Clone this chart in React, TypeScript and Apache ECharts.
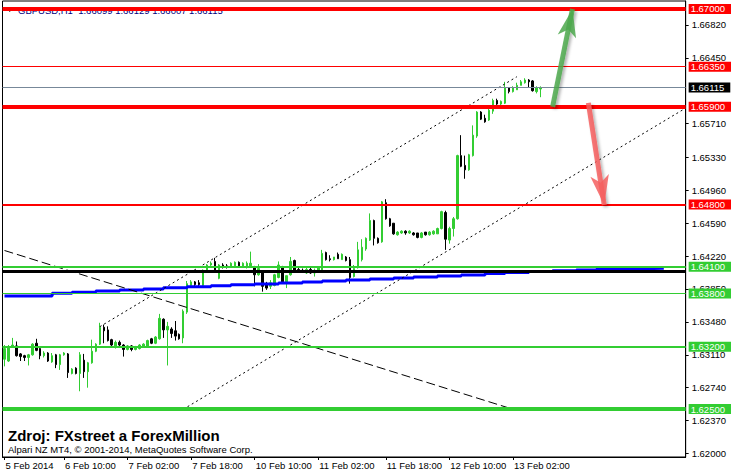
import React, { useEffect, useRef } from "react";
import * as echarts from "echarts";

// ---------- data ----------
const SLOTS = 172;
// [open, high, low, close] for each H1 bar
const ohlc: number[][] = [
  [1.6306, 1.6322, 1.6298, 1.6318], [1.6304, 1.6322, 1.6303, 1.632], [1.632, 1.633, 1.6319, 1.6322],
  [1.6321, 1.6326, 1.6309, 1.631], [1.6312, 1.6313, 1.6304, 1.6309], [1.631, 1.6311, 1.6304, 1.6308],
  [1.6308, 1.6312, 1.6299, 1.6311], [1.6311, 1.6324, 1.631, 1.6323], [1.6324, 1.6329, 1.6315, 1.6316],
  [1.6318, 1.6319, 1.6306, 1.631], [1.631, 1.6315, 1.6308, 1.6313], [1.6313, 1.6314, 1.6303, 1.6304],
  [1.6303, 1.6313, 1.6302, 1.631], [1.6311, 1.6312, 1.6296, 1.63], [1.63, 1.6312, 1.6294, 1.6311],
  [1.6311, 1.6314, 1.631, 1.6313], [1.6312, 1.6313, 1.6285, 1.6291], [1.629, 1.6296, 1.6289, 1.6295],
  [1.6296, 1.6297, 1.6289, 1.629], [1.629, 1.6314, 1.627, 1.6311], [1.6305, 1.6312, 1.6285, 1.6292],
  [1.6292, 1.6303, 1.6274, 1.6302], [1.6302, 1.6328, 1.6301, 1.6315], [1.6315, 1.6324, 1.6314, 1.6323],
  [1.6323, 1.6347, 1.6322, 1.6342], [1.6342, 1.6345, 1.6324, 1.6338], [1.6339, 1.6343, 1.6326, 1.6327],
  [1.6328, 1.6329, 1.632, 1.6322], [1.632, 1.6327, 1.6318, 1.6325], [1.6325, 1.6327, 1.632, 1.6322],
  [1.6322, 1.6323, 1.6309, 1.6317], [1.6317, 1.6322, 1.6316, 1.6321], [1.6321, 1.6322, 1.6315, 1.6317],
  [1.6317, 1.6321, 1.6316, 1.632], [1.6318, 1.6323, 1.6317, 1.6322], [1.632, 1.6324, 1.6319, 1.6323],
  [1.632, 1.6328, 1.6319, 1.6327], [1.6329, 1.633, 1.6323, 1.6324], [1.6324, 1.6332, 1.6323, 1.6331],
  [1.6329, 1.6357, 1.6328, 1.6352], [1.6351, 1.6352, 1.633, 1.6339], [1.6339, 1.6348, 1.6299, 1.6343],
  [1.634, 1.6342, 1.633, 1.6335], [1.6338, 1.6349, 1.6327, 1.6332], [1.6334, 1.6335, 1.6328, 1.6329],
  [1.633, 1.6362, 1.6324, 1.636], [1.6359, 1.6394, 1.6357, 1.6391], [1.6389, 1.6395, 1.6387, 1.6393],
  [1.6393, 1.6394, 1.6388, 1.639], [1.6392, 1.6395, 1.6388, 1.639], [1.6389, 1.6407, 1.6388, 1.6406],
  [1.6405, 1.6413, 1.6405, 1.6412], [1.6412, 1.6416, 1.6411, 1.6414], [1.6416, 1.642, 1.6405, 1.6406],
  [1.6397, 1.6413, 1.6396, 1.6412], [1.6412, 1.6414, 1.6408, 1.641], [1.6411, 1.6413, 1.6408, 1.641],
  [1.641, 1.6415, 1.6409, 1.6414], [1.6411, 1.6416, 1.641, 1.6415], [1.6415, 1.6416, 1.641, 1.6411],
  [1.641, 1.6415, 1.6409, 1.6414], [1.641, 1.6416, 1.6408, 1.6414], [1.6411, 1.6427, 1.6409, 1.6414],
  [1.641, 1.6411, 1.6388, 1.6401], [1.6401, 1.6413, 1.64, 1.6408], [1.6404, 1.6406, 1.6382, 1.6388],
  [1.6391, 1.6393, 1.6384, 1.6386], [1.6388, 1.6395, 1.6385, 1.6392], [1.6389, 1.6402, 1.6388, 1.6401],
  [1.6398, 1.6416, 1.6397, 1.6412], [1.6409, 1.6411, 1.6392, 1.6393], [1.6393, 1.64, 1.6386, 1.64],
  [1.6401, 1.6421, 1.64, 1.6416], [1.6417, 1.6418, 1.6404, 1.6406], [1.6407, 1.641, 1.6404, 1.6406],
  [1.6406, 1.6408, 1.6403, 1.6404], [1.6403, 1.6409, 1.6402, 1.6407], [1.6407, 1.6409, 1.6402, 1.6403],
  [1.6403, 1.6408, 1.6399, 1.6406], [1.6406, 1.641, 1.6404, 1.6409], [1.6406, 1.6429, 1.6405, 1.6425],
  [1.6426, 1.6427, 1.6417, 1.6418], [1.6419, 1.6423, 1.6416, 1.6418], [1.6418, 1.6421, 1.6417, 1.6421],
  [1.6424, 1.6426, 1.6419, 1.6419], [1.6418, 1.6425, 1.6418, 1.6424], [1.6421, 1.6422, 1.6416, 1.6417],
  [1.6418, 1.6421, 1.6391, 1.6398], [1.6399, 1.6412, 1.6398, 1.6408], [1.6409, 1.6438, 1.6408, 1.6429],
  [1.6418, 1.6441, 1.6416, 1.6432], [1.643, 1.6443, 1.6428, 1.6442], [1.644, 1.647, 1.6439, 1.6462],
  [1.6462, 1.6463, 1.6434, 1.6442], [1.6442, 1.6443, 1.6436, 1.6437], [1.6438, 1.6484, 1.6437, 1.6483],
  [1.6482, 1.6486, 1.6463, 1.6464], [1.6464, 1.6465, 1.6455, 1.6456], [1.6459, 1.6459, 1.6446, 1.6447],
  [1.6446, 1.645, 1.6445, 1.6449], [1.6448, 1.6451, 1.6447, 1.645], [1.645, 1.6451, 1.6446, 1.6448],
  [1.6448, 1.6451, 1.6447, 1.645], [1.6448, 1.6449, 1.6445, 1.6446], [1.6448, 1.6448, 1.6442, 1.6443],
  [1.6443, 1.6449, 1.6442, 1.6448], [1.6449, 1.6449, 1.6445, 1.6446], [1.6446, 1.645, 1.6445, 1.6449],
  [1.6447, 1.6451, 1.6446, 1.645], [1.6447, 1.6454, 1.6447, 1.6453], [1.6453, 1.6473, 1.6452, 1.6472],
  [1.6471, 1.6473, 1.6429, 1.6441], [1.644, 1.6455, 1.6436, 1.6453], [1.6453, 1.6466, 1.6444, 1.6464],
  [1.6464, 1.6536, 1.6463, 1.6535], [1.6535, 1.6558, 1.6522, 1.6523], [1.6524, 1.6535, 1.6509, 1.6519],
  [1.6519, 1.6537, 1.6518, 1.6536], [1.6535, 1.6569, 1.6534, 1.6558], [1.6557, 1.6585, 1.6555, 1.6584],
  [1.6584, 1.6585, 1.6575, 1.6576], [1.6577, 1.6581, 1.6572, 1.6573], [1.6575, 1.6588, 1.6574, 1.6586],
  [1.6585, 1.6599, 1.6582, 1.6597], [1.6597, 1.6599, 1.6592, 1.6593], [1.6593, 1.6597, 1.6591, 1.6596],
  [1.6594, 1.6618, 1.6593, 1.6611], [1.6611, 1.6612, 1.6605, 1.6607], [1.6607, 1.6613, 1.6606, 1.6611],
  [1.6609, 1.6617, 1.6609, 1.6614], [1.6614, 1.662, 1.6614, 1.6618], [1.6617, 1.6622, 1.6616, 1.662],
  [1.662, 1.6621, 1.6612, 1.6618], [1.6619, 1.662, 1.6607, 1.6608], [1.6607, 1.6613, 1.6605, 1.6611],
  [1.66099, 1.66129, 1.66007, 1.66115],
];

const timeTickIdx = [0, 15, 31, 47, 63, 79, 96, 112, 128];
const timeTickText = [
  "5 Feb 2014", "6 Feb 10:00", "7 Feb 02:00", "7 Feb 18:00", "10 Feb 10:00",
  "11 Feb 02:00", "11 Feb 18:00", "12 Feb 10:00", "13 Feb 02:00",
];

const priceTicks = [
  1.62, 1.6237, 1.6274, 1.6311, 1.6348, 1.6385, 1.6422, 1.6459, 1.6496,
  1.6533, 1.6571, 1.6645, 1.6682,
];

// horizontal levels
const levelValues = [1.67, 1.6635, 1.66115, 1.659, 1.648, 1.641, 1.64045, 1.638, 1.632, 1.625];
const levelColors = ["#FF0000", "#FF0000", "#778899", "#FF0000", "#FF0000", "#32CD32", "#000000", "#32CD32", "#32CD32", "#32CD32"];
const levelWidths = [4, 1, 1, 4, 2, 2, 3, 1, 2, 4];
// price boxes on the scale
const boxValues = [1.67, 1.6635, 1.66115, 1.659, 1.648, 1.641, 1.638, 1.632, 1.625];
const boxStyles = ["r", "r", "k", "r", "r", "g", "g", "g", "g"];

// stepped blue moving average: bar index, value
const maIdx = [0, 12, 17, 23, 29, 35, 40, 46, 52, 57, 63, 69, 75, 80, 86, 92, 98, 103, 109, 115, 121, 126, 132, 138, 144, 149, 155, 161, 166];
const maVals = [
  1.63772, 1.63802, 1.63813, 1.63828, 1.63839, 1.6385, 1.63865, 1.63876, 1.63887, 1.63899,
  1.63907, 1.63918, 1.63929, 1.6394, 1.63952, 1.63963, 1.63974, 1.63985, 1.63997, 1.64008,
  1.64025, 1.64036, 1.64047, 1.64055, 1.64064, 1.64072, 1.64078, 1.64083, 1.64087,
];

// trend lines: [barIndex, price]
const channelUpper = [[24, 1.63426], [129, 1.66237]];
const channelLower = [[45, 1.62497], [171, 1.65871]];
const downTrend = [[0, 1.64283], [129, 1.62484]];

// arrows: tail, tip
const arrowUp = [[138, 1.659], [143, 1.67]];
const arrowDown = [[147, 1.65943], [151, 1.64795]];

const Y_MIN = 1.619606;
const Y_MAX = 1.670889;
const FONT = '"Liberation Sans", Arial, sans-serif';

export default function App() {
  const ref = useRef<HTMLDivElement>(null);

  useEffect(() => {
    if (!ref.current) return;
    const chart = echarts.init(ref.current, undefined, { renderer: "svg" });
    const cats = Array.from({ length: SLOTS }, (_, i) => String(i));
    const tickSet = new Set(timeTickIdx);
    const showTick = (i: number) => tickSet.has(i);

    const mk = (bg: string) => ({
      backgroundColor: bg, color: "#fff", fontSize: 9.5, fontFamily: FONT,
      lineHeight: 10, padding: [0, 6, 0, 2],
    });
    const boxRich: any = { r: mk("#FF0000"), g: mk("#32CD32"), k: mk("#000000") };

    const arrowMark = (pts: number[][], color: string, w: number, h: number) => ({
      silent: true,
      animation: false,
      precision: 6,
      label: { show: false },
      symbol: ["none", "arrow"],
      data: [
        [
          { coord: pts[0], symbol: "none" },
          { coord: pts[1], symbol: "arrow", symbolSize: [w, h] },
        ],
      ],
      lineStyle: {
        color, width: 5, type: "solid",
        shadowColor: "rgba(0,0,0,0.35)", shadowBlur: 3, shadowOffsetX: 2, shadowOffsetY: 2,
      },
    });

    const lineSeries = (pts: number[][], dash: number[], markLine?: any) => ({
      type: "line",
      data: pts,
      showSymbol: false,
      symbol: "none",
      silent: true,
      z: 4,
      lineStyle: { color: "#000", width: 1, type: dash },
      ...(markLine ? { markLine } : {}),
    });

    const option: any = {
      animation: false,
      backgroundColor: "#fff",
      grid: {
        left: 2.5, right: 43, top: 1, bottom: 18,
        show: true, borderColor: "#000", borderWidth: 1, backgroundColor: "#fff",
      },
      xAxis: {
        type: "category",
        data: cats,
        boundaryGap: true,
        axisLine: { show: true, lineStyle: { color: "#000", width: 1 } },
        axisTick: { show: true, alignWithLabel: true, interval: showTick, length: 3, lineStyle: { color: "#000" } },
        axisLabel: {
          interval: showTick,
          formatter: (_v: string, i: number) => {
            const k = timeTickIdx.indexOf(i);
            return k >= 0 ? timeTickText[k] : "";
          },
          align: "left",
          margin: 3,
          fontSize: 9.5,
          fontFamily: FONT,
          color: "#000",
          padding: [0, 0, 0, 1],
        },
        splitLine: { show: false },
      },
      yAxis: [
        {
          type: "value",
          position: "right",
          min: Y_MIN,
          max: Y_MAX,
          axisLine: { show: true, lineStyle: { color: "#000", width: 1 } },
          axisTick: { show: true, customValues: priceTicks, length: 3, lineStyle: { color: "#000" } },
          axisLabel: {
            customValues: priceTicks,
            formatter: (v: number) => v.toFixed(5),
            margin: 6,
            fontSize: 9.5,
            lineHeight: 9,
            fontFamily: FONT,
            color: "#000",
          },
          splitLine: { show: false },
        },
        {
          type: "value",
          position: "right",
          min: Y_MIN,
          max: Y_MAX,
          z: 5,
          axisLine: { show: false },
          axisTick: { show: false },
          axisLabel: {
            customValues: boxValues,
            formatter: (v: number) => {
              const k = boxValues.findIndex((x) => Math.abs(x - v) < 1e-7);
              return `{${boxStyles[k >= 0 ? k : 0]}|${v.toFixed(5)}}`;
            },
            rich: boxRich,
            margin: 3,
          },
          splitLine: { show: false },
        },
      ],
      series: [
        {
          type: "candlestick",
          data: ohlc.map(([o, h, l, c]) => [o, c, l, h]),
          barWidth: 2,
          silent: true,
          z: 2,
          itemStyle: {
            color: "#32CD32",
            color0: "#000000",
            borderColor: "#32CD32",
            borderColor0: "#000000",
            borderWidth: 1,
          },
          markLine: {
            silent: true,
            symbol: "none",
            animation: false,
            precision: 6,
            label: { show: false },
            data: levelValues.map((v, k) => ({
              yAxis: v,
              lineStyle: { color: levelColors[k], width: levelWidths[k], type: "solid" },
            })),
          },
        },
        {
          type: "line",
          data: maIdx.map((i, k) => [i, maVals[k]]),
          step: "end",
          showSymbol: false,
          symbol: "none",
          silent: true,
          z: 4,
          lineStyle: { color: "#0000FF", width: 3 },
        },
        lineSeries(channelUpper, [2, 3], arrowMark(arrowUp, "rgba(76,168,76,0.85)", 14, 28)),
        lineSeries(channelLower, [2, 3], arrowMark(arrowDown, "rgba(245,95,95,0.85)", 14, 30)),
        lineSeries(downTrend, [9, 4]),
      ],
      graphic: [
        {
          type: "polygon",
          z: 0,
          shape: { points: [[7, 8.5], [12.5, 8.5], [9.75, 12]] },
          style: { fill: "#000" },
        },
        {
          type: "text",
          z: 0,
          x: 18,
          y: 10,
          style: {
            text: "GBPUSD,H1  1.66099 1.66129 1.66007 1.66115",
            fill: "#000080",
            font: `9.5px ${FONT}`,
            verticalAlign: "middle",
          },
        },
        {
          type: "text",
          z: 10,
          x: 8,
          y: 435.6,
          style: {
            text: "Zdroj: FXstreet a ForexMillion",
            fill: "#000",
            font: `bold 15px ${FONT}`,
            verticalAlign: "middle",
          },
        },
        {
          type: "text",
          z: 10,
          x: 8,
          y: 449.2,
          style: {
            text: "Alpari NZ MT4, © 2001-2014, MetaQuotes Software Corp.",
            fill: "#000",
            font: `9.5px ${FONT}`,
            verticalAlign: "middle",
          },
        },
      ],
    };

    chart.setOption(option);
    return () => chart.dispose();
  }, []);

  return (
    <div
      ref={ref}
      style={{ position: "fixed", left: 0, top: 0, width: 734, height: 475, background: "#fff" }}
    />
  );
}
